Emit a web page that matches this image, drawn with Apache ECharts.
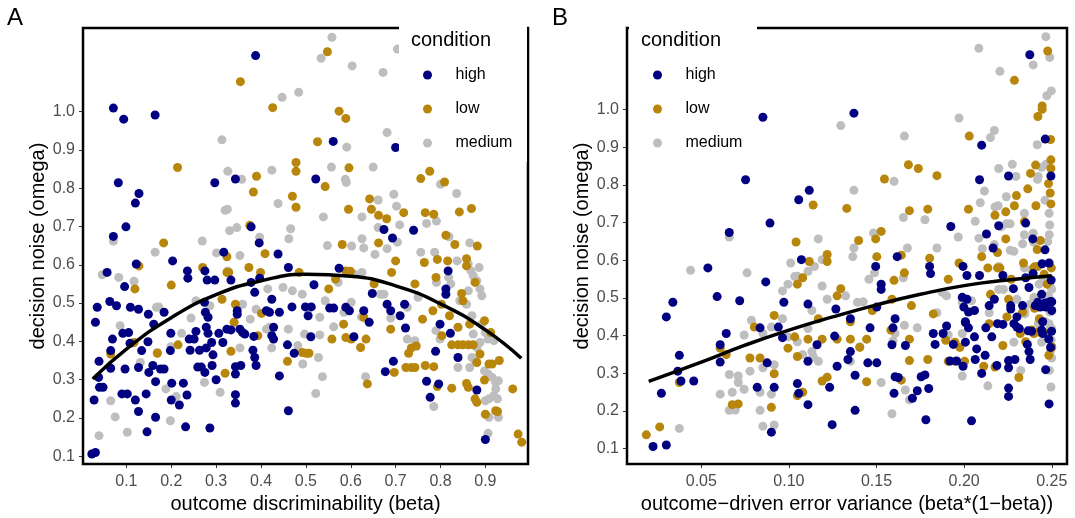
<!DOCTYPE html>
<html>
<head>
<meta charset="utf-8">
<script src="https://cdn.jsdelivr.net/npm/echarts@6.0.0/dist/echarts.min.js"></script>
<style>
  html, body { margin: 0; padding: 0; background: #fff; }
  #chart { width: 1075px; height: 518px; }
</style>
</head>
<body>
<div id="chart"></div>
<script>
// [beta, omega] per participant
const highPoints = [
  [0.388,1.146],[0.071,1.009],[0.094,0.980],[0.164,0.991],[0.561,0.922],[0.700,0.906],[0.082,0.814],[0.128,0.786],
  [0.120,0.761],[0.099,0.699],[0.071,0.674],[0.297,0.814],[0.343,0.824],[0.522,0.824],[0.378,0.699],[0.396,0.657],
  [0.317,0.633],[0.438,0.628],[0.674,0.692],[0.693,0.670],[0.740,0.690],
  [0.023,0.106],[0.031,0.110],[0.028,0.247],[0.031,0.450],[0.035,0.489],[0.040,0.280],[0.048,0.280],[0.039,0.348],
  [0.038,0.306],[0.057,0.580],[0.063,0.504],[0.078,0.493],[0.069,0.406],[0.065,0.376],[0.065,0.330],[0.096,0.543],
  [0.092,0.421],[0.105,0.423],[0.097,0.328],[0.090,0.263],[0.102,0.263],[0.109,0.489],[0.127,0.484],[0.122,0.602],
  [0.108,0.395],[0.120,0.247],[0.127,0.217],[0.127,0.332],[0.134,0.376],[0.144,0.263],[0.146,0.164],[0.149,0.471],
  [0.148,0.399],[0.150,0.319],[0.161,0.445],[0.159,0.337],[0.165,0.295],[0.165,0.202],[0.176,0.328],[0.184,0.328],
  [0.184,0.476],[0.199,0.421],[0.198,0.376],[0.201,0.291],[0.200,0.247],[0.203,0.610],[0.218,0.234],[0.227,0.291],
  [0.232,0.177],[0.235,0.260],[0.236,0.584],[0.237,0.565],[0.242,0.377],[0.240,0.406],[0.251,0.406],[0.255,0.426],
  [0.259,0.333],[0.267,0.333],[0.263,0.377],[0.275,0.584],[0.280,0.560],[0.297,0.560],[0.274,0.502],[0.276,0.476],
  [0.282,0.463],[0.278,0.437],[0.282,0.421],[0.290,0.397],[0.278,0.383],[0.275,0.319],[0.286,0.174],[0.291,0.337],
  [0.293,0.365],[0.300,0.300],[0.306,0.421],[0.315,0.397],[0.324,0.432],[0.333,0.430],[0.333,0.560],[0.343,0.334],
  [0.343,0.315],[0.343,0.261],[0.343,0.239],[0.347,0.480],[0.347,0.471],[0.353,0.432],[0.359,0.423],[0.355,0.337],
  [0.364,0.419],[0.378,0.554],[0.386,0.528],[0.382,0.377],[0.386,0.358],[0.389,0.337],[0.384,0.413],[0.397,0.565],
  [0.412,0.480],[0.419,0.476],[0.424,0.510],[0.428,0.437],[0.424,0.415],[0.428,0.406],[0.441,0.476],[0.441,0.310],
  [0.461,0.593],[0.461,0.219],[0.459,0.391],[0.469,0.490],[0.474,0.369],[0.499,0.490],[0.505,0.467],[0.512,0.490],
  [0.511,0.412],[0.518,0.548],[0.553,0.487],[0.562,0.487],[0.574,0.591],[0.589,0.489],[0.597,0.480],[0.607,0.412],
  [0.629,0.480],[0.641,0.450],[0.648,0.525],[0.677,0.321],[0.681,0.497],[0.689,0.480],[0.695,0.348],[0.710,0.467],
  [0.720,0.497],[0.722,0.435],[0.769,0.296],[0.777,0.254],[0.789,0.374],[0.796,0.289],[0.799,0.445],[0.812,0.537],
  [0.812,0.523],[0.817,0.584],[0.822,0.421],[0.839,0.358],[0.881,0.273],[0.900,0.144]
];

const lowPoints = [
  [0.548,1.156],[0.354,1.078],[0.426,1.010],[0.574,1.001],[0.589,0.982],[0.526,0.921],[0.214,0.854],[0.478,0.867],
  [0.478,0.844],[0.596,0.853],[0.390,0.831],[0.383,0.790],[0.543,0.804],[0.470,0.779],[0.478,0.750],[0.756,0.825],
  [0.776,0.844],[0.809,0.816],[0.642,0.772],[0.646,0.745],[0.595,0.745],[0.662,0.729],[0.680,0.720],[0.718,0.736],
  [0.766,0.736],[0.785,0.732],[0.842,0.738],[0.869,0.747],[0.812,0.677],[0.832,0.653],[0.882,0.649],[0.375,0.703],
  [0.183,0.657],[0.409,0.629],[0.581,0.653],[0.662,0.657],[0.324,0.621],[0.793,0.614],[0.858,0.616],[0.717,0.930],
  [0.128,0.597],[0.119,0.537],[0.117,0.397],[0.065,0.367],[0.169,0.369],[0.200,0.547],[0.215,0.391],[0.270,0.593],
  [0.313,0.510],[0.324,0.580],[0.328,0.580],[0.340,0.450],[0.343,0.497],[0.333,0.374],[0.320,0.317],[0.373,0.593],
  [0.399,0.580],[0.393,0.415],[0.401,0.473],[0.459,0.348],[0.492,0.371],[0.501,0.369],[0.507,0.369],[0.485,0.580],
  [0.551,0.537],[0.558,0.406],[0.566,0.563],[0.584,0.445],[0.589,0.410],[0.601,0.406],[0.589,0.584],[0.599,0.583],
  [0.622,0.384],[0.634,0.406],[0.629,0.463],[0.637,0.289],[0.652,0.550],[0.691,0.580],[0.689,0.432],[0.697,0.319],
  [0.700,0.610],[0.723,0.332],[0.735,0.332],[0.743,0.332],[0.729,0.369],[0.743,0.550],[0.735,0.383],[0.746,0.388],
  [0.764,0.606],[0.766,0.337],[0.785,0.334],[0.760,0.458],[0.783,0.480],[0.790,0.567],[0.793,0.282],[0.803,0.415],
  [0.802,0.497],[0.816,0.610],[0.820,0.467],[0.825,0.278],[0.825,0.391],[0.839,0.391],[0.850,0.391],[0.862,0.391],
  [0.873,0.391],[0.839,0.437],[0.847,0.525],[0.850,0.506],[0.858,0.597],[0.858,0.290],[0.862,0.280],[0.877,0.250],
  [0.881,0.241],[0.881,0.345],[0.865,0.445],[0.888,0.367],[0.877,0.554],[0.898,0.299],[0.900,0.210],[0.908,0.341],
  [0.915,0.341],[0.912,0.423],[0.923,0.219],[0.927,0.217],[0.931,0.350],[0.961,0.276],[0.973,0.158],[0.981,0.137],
  [0.898,0.454]
];

const mediumPoints = [
  [0.558,1.194],[0.534,1.139],[0.603,1.119],[0.672,1.102],[0.704,1.163],[0.447,1.037],[0.484,1.050],[0.313,0.926],
  [0.681,0.945],[0.591,0.907],[0.557,0.855],[0.650,0.855],[0.588,0.823],[0.590,0.815],[0.326,0.844],[0.357,0.823],
  [0.424,0.847],[0.696,0.784],[0.800,0.810],[0.836,0.786],[0.320,0.742],[0.325,0.745],[0.438,0.760],[0.539,0.725],
  [0.625,0.725],[0.661,0.769],[0.702,0.753],[0.709,0.704],[0.769,0.708],[0.791,0.714],[0.819,0.673],[0.865,0.657],
  [0.330,0.689],[0.346,0.697],[0.466,0.694],[0.462,0.668],[0.397,0.672],[0.269,0.662],[0.164,0.633],[0.301,0.631],
  [0.353,0.624],[0.548,0.650],[0.602,0.649],[0.629,0.644],[0.625,0.668],[0.661,0.697],[0.681,0.642],[0.654,0.627],
  [0.704,0.659],[0.756,0.633],[0.787,0.633],[0.071,0.662],[0.847,0.958],[0.730,0.978],[0.790,0.930],
  [0.039,0.154],[0.046,0.574],[0.065,0.245],[0.075,0.203],[0.083,0.567],[0.086,0.441],[0.102,0.163],[0.117,0.557],
  [0.131,0.345],[0.169,0.371],[0.167,0.489],[0.172,0.490],[0.188,0.276],[0.198,0.193],[0.199,0.386],[0.211,0.256],
  [0.223,0.421],[0.244,0.461],[0.255,0.506],[0.274,0.293],[0.286,0.493],[0.309,0.267],[0.326,0.584],[0.353,0.383],
  [0.359,0.497],[0.376,0.458],[0.389,0.484],[0.415,0.537],[0.412,0.432],[0.419,0.437],[0.424,0.383],[0.449,0.541],
  [0.470,0.532],[0.461,0.432],[0.482,0.389],[0.493,0.341],[0.497,0.419],[0.492,0.523],[0.522,0.264],[0.531,0.463],
  [0.531,0.417],[0.528,0.358],[0.537,0.308],[0.543,0.506],[0.562,0.438],[0.572,0.554],[0.585,0.476],[0.601,0.502],
  [0.608,0.576],[0.625,0.580],[0.633,0.308],[0.624,0.464],[0.666,0.523],[0.674,0.523],[0.689,0.461],[0.726,0.489],
  [0.726,0.406],[0.743,0.402],[0.750,0.515],[0.785,0.230],[0.790,0.428],[0.791,0.554],[0.799,0.406],[0.818,0.567],
  [0.823,0.550],[0.839,0.332],[0.843,0.506],[0.837,0.610],[0.862,0.602],[0.868,0.584],[0.873,0.571],[0.881,0.558],
  [0.886,0.593],[0.858,0.497],[0.862,0.532],[0.870,0.467],[0.873,0.419],[0.881,0.384],[0.888,0.397],[0.870,0.358],
  [0.877,0.350],[0.865,0.332],[0.888,0.537],[0.892,0.519],[0.892,0.445],[0.900,0.423],[0.906,0.406],[0.898,0.323],
  [0.906,0.315],[0.915,0.306],[0.923,0.293],[0.929,0.297],[0.900,0.245],[0.908,0.250],[0.908,0.202],[0.929,0.202],
  [0.906,0.160],[0.923,0.276],[0.927,0.250],[0.919,0.402],[0.919,0.258]
];

// fitted curves
const fitBetaX = [0.025, 0.1, 0.2, 0.3, 0.4, 0.5, 0.6, 0.7, 0.8, 0.9, 0.98];
const fitBetaY = [0.302, 0.380, 0.462, 0.522, 0.558, 0.575, 0.570, 0.545, 0.498, 0.430, 0.356];
const fitVarX = [0.02, 0.05, 0.075, 0.1, 0.125, 0.15, 0.175, 0.2, 0.225, 0.25];
const fitVarY = [0.279, 0.330, 0.375, 0.415, 0.450, 0.482, 0.510, 0.533, 0.548, 0.559];

const conditions = ['high', 'low', 'medium'];
const betaTicks = [0.1, 0.2, 0.3, 0.4, 0.5, 0.6, 0.7, 0.8, 0.9];
const varianceTicks = [0.05, 0.10, 0.15, 0.20, 0.25];
const omegaTicks = [0.1, 0.2, 0.3, 0.4, 0.5, 0.6, 0.7, 0.8, 0.9, 1.0];

const colors = { high: '#000080', low: '#B8860B', medium: '#BEBEBE' };
const FONT = '"Liberation Sans", Arial, Helvetica, sans-serif';
const pointsByCondition = { high: highPoints, low: lowPoints, medium: mediumPoints };

const chart = echarts.init(document.getElementById('chart'), null, { renderer: 'canvas' });

function xAxisFor(grid, min, max, ticks, digits, title) {
  return {
    gridIndex: grid, type: 'value', min, max,
    axisLine: { show: false }, splitLine: { show: false },
    axisTick: { show: true, customValues: ticks, length: 4, lineStyle: { color: '#333', width: 1 } },
    axisLabel: { customValues: ticks, formatter: v => v.toFixed(digits), color: '#4D4D4D', fontSize: 16, margin: 10, fontFamily: FONT },
    name: title, nameLocation: 'middle', nameGap: 29,
    nameTextStyle: { color: '#000', fontSize: 20, fontFamily: FONT }
  };
}

function yAxisFor(grid, min, max) {
  return {
    gridIndex: grid, type: 'value', min, max,
    axisLine: { show: false }, splitLine: { show: false },
    axisTick: { show: true, customValues: omegaTicks, length: 4, lineStyle: { color: '#333', width: 1 } },
    axisLabel: { customValues: omegaTicks, formatter: v => v.toFixed(1), color: '#4D4D4D', fontSize: 16, margin: 8, fontFamily: FONT },
    name: 'decision noise (omega)', nameLocation: 'middle', nameGap: 35, nameRotate: 90,
    nameTextStyle: { color: '#000', fontSize: 20, fontFamily: FONT }
  };
}

const series = [];
[0, 1].forEach(panel => {
  ['medium', 'low', 'high'].forEach(name => {
    const pts = pointsByCondition[name];
    series.push({
      name, type: 'scatter', xAxisIndex: panel, yAxisIndex: panel,
      data: panel === 0 ? pts : pts.map(p => [p[0] * (1 - p[0]), p[1]]),
      symbol: 'circle', symbolSize: 9,
      itemStyle: { color: colors[name], opacity: 1 },
      silent: true, z: 2
    });
  });
});
series.push({
  type: 'line', xAxisIndex: 0, yAxisIndex: 0, smooth: true, showSymbol: false, silent: true, z: 5,
  data: fitBetaX.map((x, i) => [x, fitBetaY[i]]),
  lineStyle: { color: '#000', width: 3.5 }
});
series.push({
  type: 'line', xAxisIndex: 1, yAxisIndex: 1, smooth: true, showSymbol: false, silent: true, z: 5,
  data: fitVarX.map((x, i) => [x, fitVarY[i]]),
  lineStyle: { color: '#000', width: 3.5 }
});

function legendAt(left) {
  return {
    data: conditions, orient: 'vertical', left, top: 67, padding: 0,
    itemWidth: 46, itemHeight: 9, itemGap: 18, icon: 'circle', selectedMode: false,
    textStyle: { fontSize: 16, color: '#000', lineHeight: 16, fontFamily: FONT },
    z: 20
  };
}

chart.setOption({
  animation: false,
  textStyle: { fontFamily: FONT },
  grid: [
    { left: 83, top: 28, width: 445, height: 436, show: true, borderColor: '#000', borderWidth: 2.5, backgroundColor: 'transparent', containLabel: false, outerBoundsMode: 'none', z: 6 },
    { left: 627, top: 28, width: 440, height: 436, show: true, borderColor: '#000', borderWidth: 2.5, backgroundColor: 'transparent', containLabel: false, outerBoundsMode: 'none', z: 6 }
  ],
  xAxis: [
    xAxisFor(0, 0.0033, 0.995, betaTicks, 1, 'outcome discriminability (beta)'),
    xAxisFor(1, 0.0076, 0.2587, varianceTicks, 2, 'outcome\u2212driven error variance (beta*(1\u2212beta))')
  ],
  yAxis: [yAxisFor(0, 0.080, 1.218), yAxisFor(1, 0.0595, 1.217)],
  legend: [legendAt(423), legendAt(653)],
  series,
  graphic: [
    { type: 'rect', z: 10, silent: true, shape: { x: 399, y: 18, width: 128, height: 144 }, style: { fill: '#fff' } },
    { type: 'rect', z: 10, silent: true, shape: { x: 629, y: 18, width: 128, height: 144 }, style: { fill: '#fff' } },
    { type: 'text', z: 21, silent: true, style: { text: 'condition', x: 411, y: 40, verticalAlign: 'middle', fontSize: 20, fontFamily: FONT, fill: '#000' } },
    { type: 'text', z: 21, silent: true, style: { text: 'condition', x: 641, y: 40, verticalAlign: 'middle', fontSize: 20, fontFamily: FONT, fill: '#000' } },
    { type: 'text', z: 21, silent: true, style: { text: 'A', x: 7, y: 18, verticalAlign: 'middle', fontSize: 24, fontFamily: FONT, fill: '#000' } },
    { type: 'text', z: 21, silent: true, style: { text: 'B', x: 552, y: 18, verticalAlign: 'middle', fontSize: 24, fontFamily: FONT, fill: '#000' } }
  ]
});
</script>
</body>
</html>
